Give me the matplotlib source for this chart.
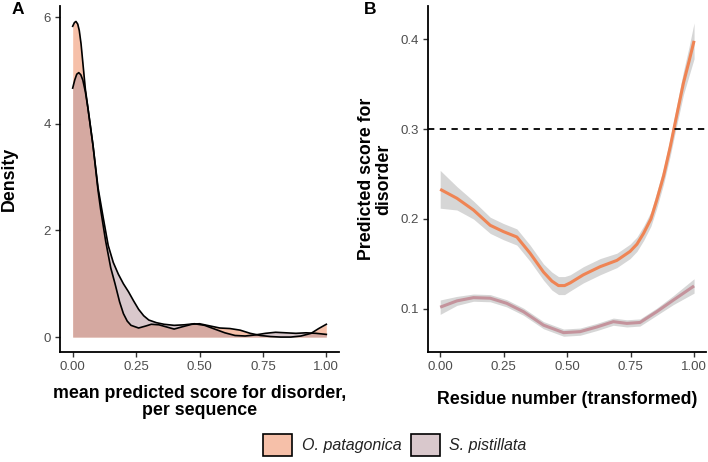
import matplotlib
matplotlib.use("Agg")
import matplotlib.pyplot as plt
from matplotlib.patches import Patch

plt.rcParams['font.family'] = ['Liberation Sans', 'DejaVu Sans']

# ---------------- data ----------------
species = ["O. patagonica", "S. pistillata"]
fill_rgba = [(0.933, 0.514, 0.329, 0.5), (0.710, 0.576, 0.604, 0.5)]
line_colors = ["#EF8454", "#C4939C"]

# Panel A: density of mean predicted disorder score per sequence
opat_x = [0.00, 0.007, 0.013, 0.02, 0.026, 0.033, 0.04, 0.05, 0.06, 0.08,
          0.10, 0.11, 0.13, 0.15, 0.167, 0.185, 0.20, 0.215, 0.23, 0.26, 0.29,
          0.31, 0.34, 0.37, 0.40, 0.43, 0.47, 0.50, 0.54, 0.58, 0.62, 0.66,
          0.70, 0.74, 0.78, 0.82, 0.86, 0.90, 0.94, 0.97, 1.00]
opat_y = [5.83, 5.90, 5.92, 5.87, 5.75, 5.50, 5.15, 4.65, 4.30, 3.60,
          2.75, 2.40, 1.80, 1.30, 1.00, 0.66, 0.44, 0.30, 0.22, 0.17, 0.21,
          0.24, 0.23, 0.19, 0.15, 0.19, 0.24, 0.25, 0.21, 0.17, 0.16, 0.13,
          0.07, 0.03, 0.01, 0.00, 0.00, 0.02, 0.07, 0.16, 0.24]

spis_x = [0.00, 0.008, 0.016, 0.024, 0.032, 0.04, 0.05, 0.06, 0.08, 0.10,
          0.12, 0.14, 0.16, 0.18, 0.20, 0.22, 0.24, 0.26, 0.28, 0.30, 0.33,
          0.36, 0.40, 0.44, 0.48, 0.52, 0.56, 0.60, 0.64, 0.68, 0.72, 0.76,
          0.80, 0.84, 0.88, 0.92, 0.96, 1.00]
spis_y = [4.67, 4.82, 4.93, 4.96, 4.92, 4.82, 4.60, 4.30, 3.60, 2.80,
          2.25, 1.72, 1.40, 1.18, 1.00, 0.85, 0.68, 0.52, 0.40, 0.32, 0.27,
          0.24, 0.22, 0.23, 0.25, 0.22, 0.15, 0.08, 0.03, 0.02, 0.04, 0.07,
          0.09, 0.08, 0.07, 0.08, 0.07, 0.05]

# Panel B: smoothed predicted disorder score along transformed residue number
opat_rx = [0.00, 0.066, 0.131, 0.197, 0.249, 0.302, 0.354, 0.407, 0.44,
           0.466, 0.49, 0.512, 0.564, 0.63, 0.696, 0.748, 0.775, 0.801, 0.83,
           0.853, 0.88, 0.906, 0.93, 0.958, 0.98, 1.00]
opat_ry = [0.233, 0.223, 0.210, 0.193, 0.186, 0.180, 0.162, 0.141, 0.131,
           0.126, 0.126, 0.129, 0.138, 0.147, 0.154, 0.164, 0.172, 0.184, 0.200,
           0.221, 0.248, 0.280, 0.313, 0.351, 0.375, 0.398]
opat_se = [0.021, 0.013, 0.010, 0.009, 0.009, 0.009, 0.009, 0.009, 0.010,
           0.010, 0.010, 0.009, 0.009, 0.009, 0.008, 0.008, 0.008, 0.008, 0.008,
           0.009, 0.009, 0.010, 0.011, 0.013, 0.016, 0.020]

spis_rx = [0.00, 0.066, 0.131, 0.197, 0.262, 0.328, 0.407, 0.486, 0.551,
           0.617, 0.682, 0.735, 0.787, 0.853, 0.919, 1.00]
spis_ry = [0.102, 0.109, 0.1126, 0.112, 0.1063, 0.097, 0.082, 0.0737, 0.0748,
           0.080, 0.0859, 0.084, 0.085, 0.097, 0.110, 0.1256]
spis_se = [0.008, 0.005, 0.004, 0.004, 0.004, 0.004, 0.004, 0.004, 0.004,
           0.004, 0.004, 0.004, 0.004, 0.004, 0.005, 0.008]

threshold = 0.3

xticks = [0.0, 0.25, 0.5, 0.75, 1.0]
xticklabels = ["0.00", "0.25", "0.50", "0.75", "1.00"]
a_yticks = [0, 2, 4, 6]
b_yticks = [0.1, 0.2, 0.3, 0.4]

# ---------------- figure ----------------
fig = plt.figure(figsize=(7.08, 4.62), dpi=100)
W, H = 708, 462
axA = fig.add_axes([60 / W, 1 - 352 / H, 279 / W, 346 / H])
axB = fig.add_axes([428 / W, 1 - 352 / H, 278 / W, 346 / H])

# Panel A
axA.fill_between(opat_x, 0, opat_y, color=fill_rgba[0], lw=0)
axA.plot(opat_x, opat_y, color="black", lw=1.2)
axA.fill_between(spis_x, 0, spis_y, color=fill_rgba[1], lw=0)
axA.plot(spis_x, spis_y, color="black", lw=1.2)
axA.set_xlim(-0.05, 1.05)
axA.set_ylim(-0.28, 6.21)
axA.set_yticks(a_yticks)
axA.set_ylabel("Density", fontsize=12.8, fontweight="bold")
axA.yaxis.set_label_coords(-0.152, 0.5)
axA.set_xlabel("mean predicted score for disorder,\nper sequence",
               fontsize=12.8, fontweight="bold", linespacing=1.0)
axA.xaxis.set_label_coords(0.5, -0.095)

# Panel B
for x, y, se, c in [(opat_rx, opat_ry, opat_se, line_colors[0]),
                    (spis_rx, spis_ry, spis_se, line_colors[1])]:
    lo = [a - b for a, b in zip(y, se)]
    hi = [a + b for a, b in zip(y, se)]
    axB.fill_between(x, lo, hi, color="#999999", alpha=0.4, lw=0)
    axB.plot(x, y, color=c, lw=2.2, solid_capstyle="butt",
             solid_joinstyle="round")
axB.axhline(threshold, color="black", lw=1.3, ls=(0, (3.5, 3)))
axB.set_xlim(-0.048, 1.047)
axB.set_ylim(0.0522, 0.4367)
axB.set_yticks(b_yticks)
axB.set_yticklabels(["0.1", "0.2", "0.3", "0.4"])
axB.set_ylabel("Predicted score for\ndisorder", fontsize=12.8,
               fontweight="bold", linespacing=1.0)
axB.yaxis.set_label_coords(-0.128, 0.5)
axB.set_xlabel("Residue number (transformed)", fontsize=12.8,
               fontweight="bold")
axB.xaxis.set_label_coords(0.5, -0.113)

for ax in (axA, axB):
    ax.set_xticks(xticks)
    ax.set_xticklabels(xticklabels)
    for s in ("top", "right"):
        ax.spines[s].set_visible(False)
    for s in ("left", "bottom"):
        ax.spines[s].set_linewidth(1.3)
        ax.spines[s].set_color("black")
    ax.tick_params(direction="out", length=3.5, width=1.0, color="#333333",
                   labelsize=9.5, labelcolor="#4D4D4D", pad=3)

fig.text(12 / W, 1 - 10 / H, "A", fontsize=12.5, fontweight="bold",
         ha="left", va="center")
fig.text(364 / W, 1 - 10 / H, "B", fontsize=12.5, fontweight="bold",
         ha="left", va="center")

handles = [Patch(facecolor=fill_rgba[i], edgecolor="black", linewidth=1.2)
           for i in range(2)]
leg = fig.legend(handles, species, loc="center", ncol=2,
                 bbox_to_anchor=(395 / W, 1 - 445 / H), frameon=False,
                 prop={"size": 11.5, "style": "italic"},
                 handlelength=1.8, handleheight=1.8, handletextpad=0.6,
                 columnspacing=0.6)
for t in leg.get_texts():
    t.set_color("#222222")

fig.savefig("out.png", dpi=100)
